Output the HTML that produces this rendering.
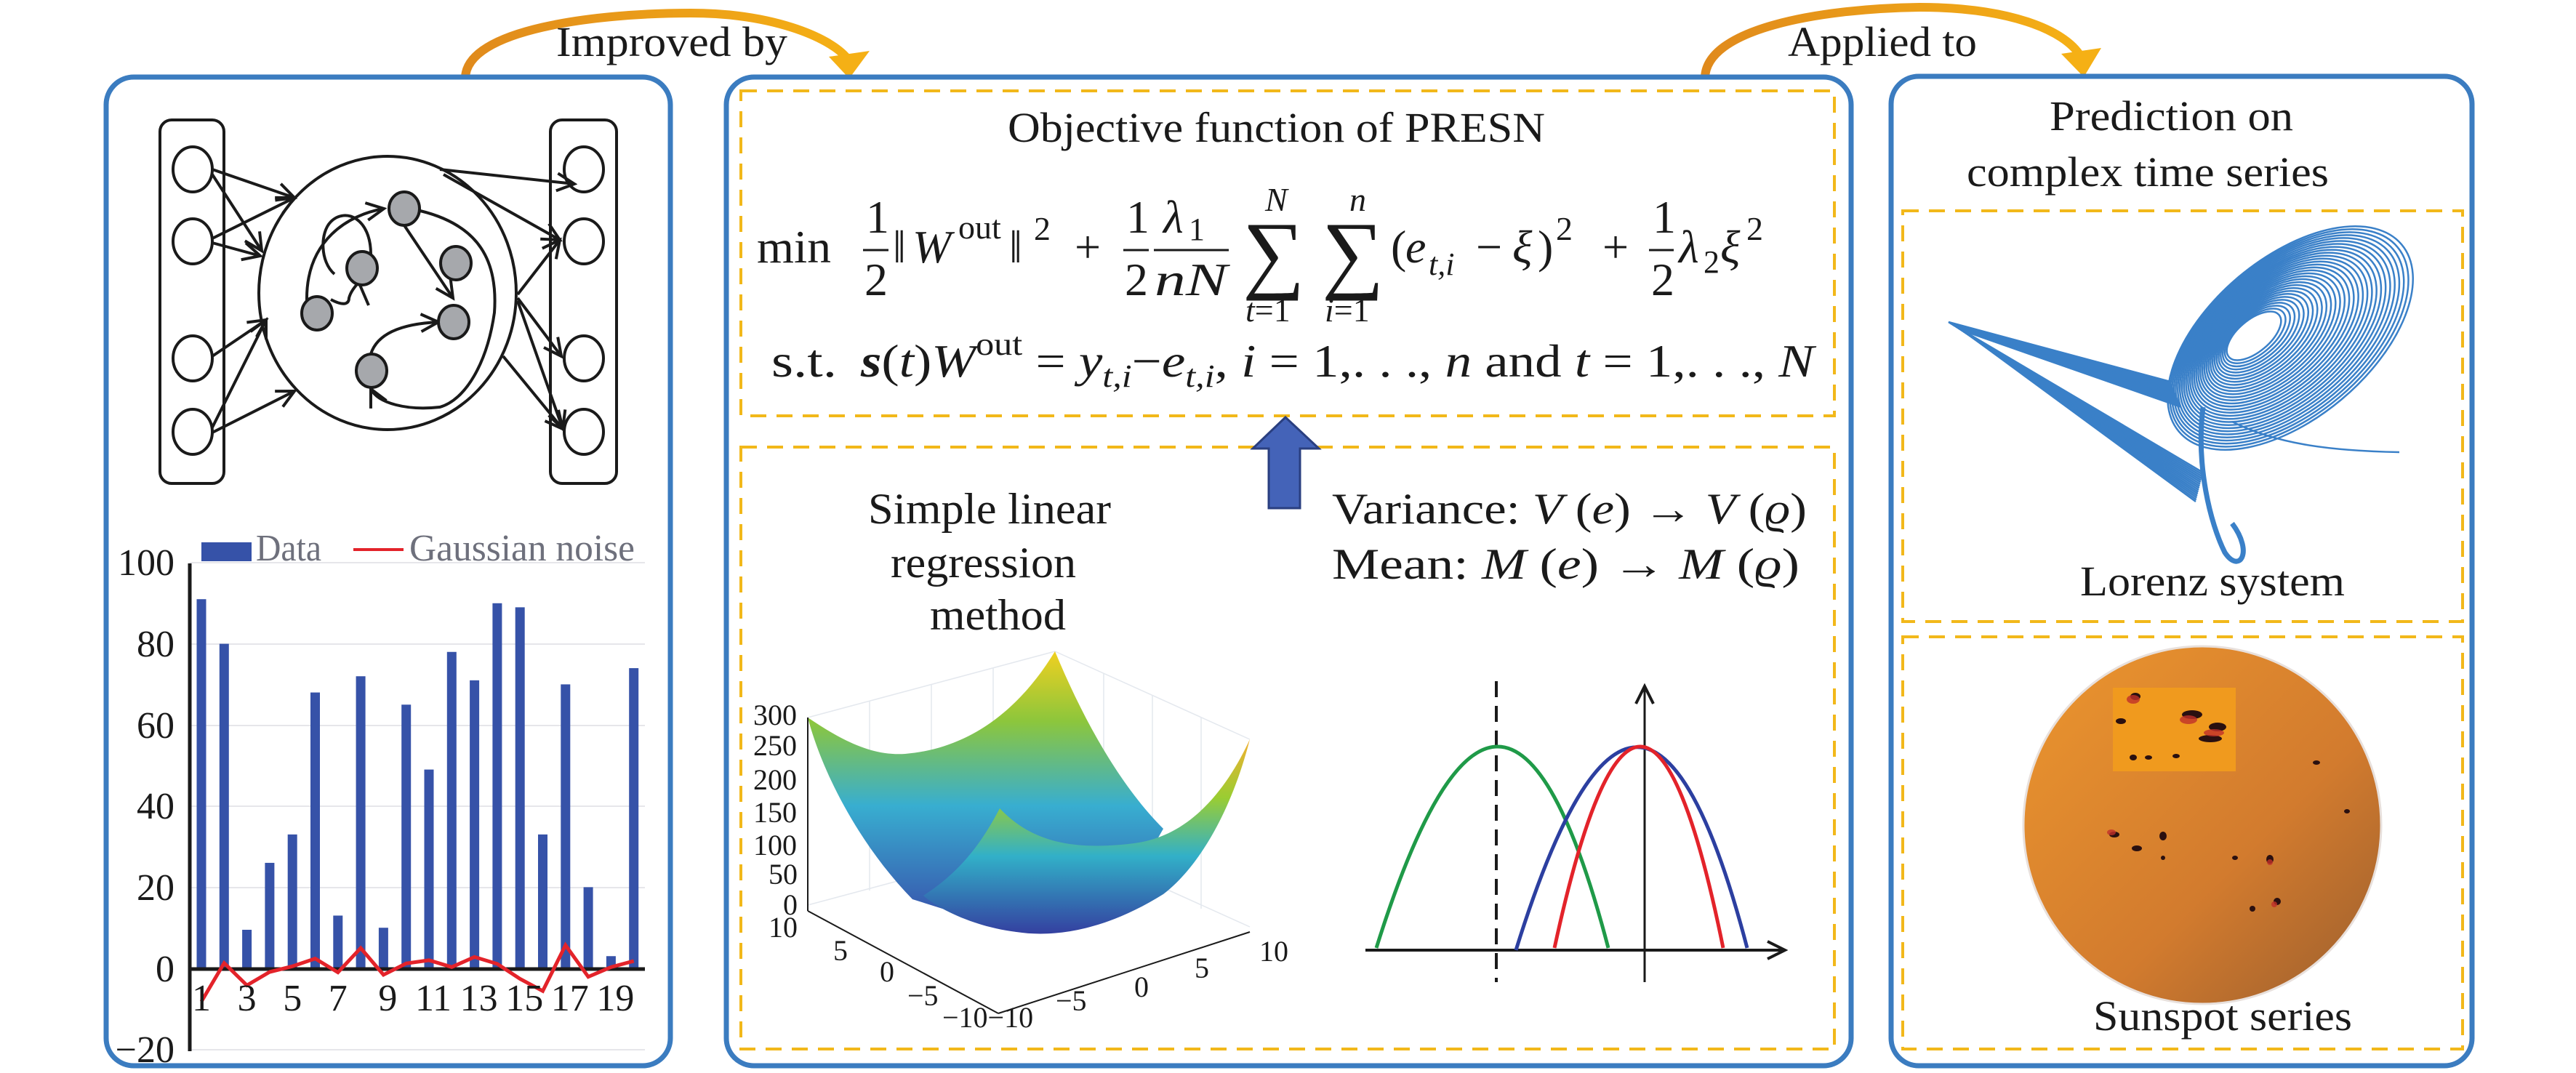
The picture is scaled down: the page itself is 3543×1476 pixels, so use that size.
<!DOCTYPE html>
<html><head><meta charset="utf-8"><style>
html,body{margin:0;padding:0;background:#fff;}
svg{display:block;}
svg text{font-family:"Liberation Serif","DejaVu Serif",serif;fill:#1a1a1a;}
.it{font-style:italic;}
</style></head><body>
<svg id="s" width="3543" height="1476" viewBox="0 0 3543 1476" xmlns="http://www.w3.org/2000/svg" font-family="Liberation Serif, DejaVu Serif, serif">
<defs>
<linearGradient id="arr" x1="0" y1="0" x2="1" y2="0"><stop offset="0" stop-color="#e08a1c"/><stop offset="1" stop-color="#f5b015"/></linearGradient>
<linearGradient id="sun" x1="0" y1="0" x2="1" y2="1"><stop offset="0" stop-color="#ec962e"/><stop offset="0.6" stop-color="#d27b2e"/><stop offset="1" stop-color="#9a5e2e"/></linearGradient>
<linearGradient id="surfB" x1="0" y1="0" x2="0" y2="1"><stop offset="0" stop-color="#f0d020"/><stop offset="0.25" stop-color="#8cc63c"/><stop offset="0.55" stop-color="#38aed0"/><stop offset="1" stop-color="#3848a8"/></linearGradient>
<linearGradient id="surfF" x1="0" y1="0" x2="0" y2="1"><stop offset="0" stop-color="#f2b030"/><stop offset="0.3" stop-color="#9acd32"/><stop offset="0.6" stop-color="#32b0c8"/><stop offset="1" stop-color="#3440a0"/></linearGradient>
<marker id="ah2" markerWidth="30" markerHeight="30" refX="26" refY="15" orient="auto" markerUnits="userSpaceOnUse"><path d="M2,3 L26,15 L2,27" fill="none" stroke="#1a1a1a" stroke-width="4"/></marker>
</defs>

<path d="M640,108 C640,40 820,18 950,18 C1060,18 1140,50 1165,80" fill="none" stroke="url(#arr)" stroke-width="12"/>
<polygon points="1140,78 1196,70 1168,108" fill="#f5b015"/>
<text x="765" y="77" font-size="58" textLength="318" lengthAdjust="spacingAndGlyphs">Improved by</text>
<path d="M2345,108 C2345,40 2500,12 2640,10 C2760,10 2840,40 2862,78" fill="none" stroke="url(#arr)" stroke-width="12"/>
<polygon points="2835,74 2890,66 2866,106" fill="#f5b015"/>
<text x="2459" y="77" font-size="58" textLength="260" lengthAdjust="spacingAndGlyphs">Applied to</text>

<rect x="146" y="106" width="776" height="1360" rx="38" fill="none" stroke="#3b7cc0" stroke-width="7"/>
<rect x="999" y="106" width="1547" height="1360" rx="38" fill="none" stroke="#3b7cc0" stroke-width="7"/>
<rect x="2601" y="105" width="799" height="1361" rx="38" fill="none" stroke="#3b7cc0" stroke-width="7"/>
<g fill="none" stroke="#f2b81a" stroke-width="4" stroke-dasharray="22,14">
<rect x="1019" y="125" width="1504" height="447"/>
<rect x="1019" y="615" width="1504" height="828"/>
<rect x="2617" y="290" width="770" height="565"/>
<rect x="2617" y="876" width="770" height="567"/>
</g>

<g fill="none" stroke="#1a1a1a" stroke-width="4">
<rect x="220" y="165" width="88" height="500" rx="16"/>
<rect x="757" y="165" width="91" height="500" rx="16"/>
<ellipse cx="265" cy="233" rx="27" ry="31"/><ellipse cx="265" cy="332" rx="27" ry="31"/>
<ellipse cx="265" cy="493" rx="27" ry="31"/><ellipse cx="265" cy="594" rx="27" ry="31"/>
<ellipse cx="803" cy="233" rx="27" ry="31"/><ellipse cx="803" cy="332" rx="27" ry="31"/>
<ellipse cx="803" cy="493" rx="27" ry="31"/><ellipse cx="803" cy="594" rx="27" ry="31"/>
<ellipse cx="533" cy="403" rx="177" ry="188"/>
<g marker-end="url(#ah2)">
<line x1="292" y1="233" x2="405" y2="272"/><line x1="292" y1="240" x2="360" y2="345"/>
<line x1="292" y1="328" x2="405" y2="272"/><line x1="292" y1="334" x2="358" y2="352"/>
<line x1="292" y1="490" x2="366" y2="440"/><line x1="292" y1="588" x2="366" y2="440"/>
<line x1="292" y1="595" x2="405" y2="538"/>
<line x1="605" y1="233" x2="790" y2="253"/><line x1="610" y1="240" x2="770" y2="330"/>
<line x1="712" y1="405" x2="770" y2="330"/><line x1="712" y1="410" x2="772" y2="490"/>
<line x1="712" y1="414" x2="774" y2="590"/><line x1="692" y1="490" x2="774" y2="590"/>
<line x1="556" y1="310" x2="623" y2="410"/>
<path d="M422,415 C420,330 480,295 528,287"/>
<path d="M578,290 C660,310 685,360 680,430 C670,500 640,550 605,560 C560,565 520,555 510,535"/>
<path d="M510,487 C520,455 560,445 603,443"/>
</g>
<path d="M460,377 C440,360 440,320 455,305 C475,285 510,300 510,350 C510,380 485,390 480,410 C480,420 470,420 455,412"/>
<line x1="495" y1="392" x2="507" y2="420"/>
</g>
<g fill="#a6a8ac" stroke="#1a1a1a" stroke-width="4">
<ellipse cx="556" cy="287" rx="21" ry="23"/><ellipse cx="498" cy="369" rx="21" ry="23"/>
<ellipse cx="436" cy="431" rx="21" ry="23"/><ellipse cx="627" cy="362" rx="21" ry="23"/>
<ellipse cx="624" cy="443" rx="21" ry="23"/><ellipse cx="511" cy="510" rx="21" ry="23"/>
</g>

<g stroke="#e6e6ea" stroke-width="2">
<line x1="261" y1="774" x2="887" y2="774"/><line x1="261" y1="886" x2="887" y2="886"/>
<line x1="261" y1="998" x2="887" y2="998"/><line x1="261" y1="1109" x2="887" y2="1109"/>
<line x1="261" y1="1221" x2="887" y2="1221"/><line x1="261" y1="1444" x2="887" y2="1444"/>
</g>
<g id="bars" fill="#3652a8"></g>
<line x1="261" y1="775" x2="261" y2="1446" stroke="#1a1a1a" stroke-width="5"/>
<line x1="259" y1="1333" x2="887" y2="1333" stroke="#1a1a1a" stroke-width="5"/>
<polyline id="noise" fill="none" stroke="#e3232a" stroke-width="5"/>
<g font-size="52" text-anchor="end">
<text x="240" y="791">100</text><text x="240" y="903">80</text><text x="240" y="1015">60</text>
<text x="240" y="1126">40</text><text x="240" y="1238">20</text><text x="240" y="1350">0</text><text x="240" y="1461">−20</text>
</g>
<g font-size="52" text-anchor="middle" id="xl"></g>
<rect x="277" y="746" width="69" height="26" fill="#3652a8"/>
<text x="352" y="771" font-size="52" style="fill:#6e707c" textLength="90" lengthAdjust="spacingAndGlyphs">Data</text>
<line x1="486" y1="756" x2="555" y2="756" stroke="#e3232a" stroke-width="4"/>
<text x="563" y="771" font-size="52" style="fill:#6e707c" textLength="310" lengthAdjust="spacingAndGlyphs">Gaussian noise</text>

<text x="1386" y="195" font-size="58" textLength="739" lengthAdjust="spacingAndGlyphs">Objective function of PRESN</text>
<g font-size="64">
<text x="1041" y="361" textLength="102" lengthAdjust="spacingAndGlyphs">min</text>
<text x="1191" y="320">1</text><line x1="1187" y1="344" x2="1222" y2="344" stroke="#1a1a1a" stroke-width="3"/><text x="1189" y="406">2</text>
<text x="1228" y="361">‖</text><text x="1255" y="361" class="it">W</text><text x="1318" y="328" font-size="46">out</text><text x="1388" y="361">‖</text><text x="1422" y="330" font-size="46">2</text>
<text x="1478" y="361">+</text>
<text x="1549" y="320">1</text><line x1="1545" y1="344" x2="1580" y2="344" stroke="#1a1a1a" stroke-width="3"/><text x="1547" y="406">2</text>
<text x="1600" y="320" class="it">λ</text><text x="1635" y="330" font-size="44">1</text>
<line x1="1587" y1="344" x2="1690" y2="344" stroke="#1a1a1a" stroke-width="3"/>
<text x="1588" y="406" class="it" textLength="100" lengthAdjust="spacingAndGlyphs">nN</text>
<text x="1709" y="388" font-size="120">∑</text><text x="1818" y="388" font-size="120">∑</text>
<text x="1740" y="290" font-size="46" class="it">N</text><text x="1856" y="290" font-size="46" class="it">n</text>
<text x="1713" y="442" font-size="46"><tspan class="it">t</tspan>=1</text><text x="1822" y="442" font-size="46"><tspan class="it">i</tspan>=1</text>
<text x="1913" y="361">(</text><text x="1933" y="361" class="it">e</text><text x="1965" y="378" font-size="44" class="it">t,i</text>
<text x="2030" y="361">−</text><text x="2080" y="361" class="it">ξ</text><text x="2115" y="361">)</text><text x="2140" y="330" font-size="46">2</text>
<text x="2204" y="361">+</text>
<text x="2273" y="320">1</text><line x1="2268" y1="344" x2="2302" y2="344" stroke="#1a1a1a" stroke-width="3"/><text x="2271" y="406">2</text>
<text x="2309" y="361" class="it">λ</text><text x="2343" y="375" font-size="44">2</text><text x="2366" y="361" class="it">ξ</text><text x="2402" y="330" font-size="46">2</text>
<text x="1061" y="518" textLength="90" lengthAdjust="spacingAndGlyphs">s.t.</text>
<text x="1184" y="518" textLength="1311" lengthAdjust="spacingAndGlyphs"><tspan font-weight="bold" class="it">s</tspan>(<tspan class="it">t</tspan>)<tspan class="it">W</tspan><tspan font-size="44" dy="-30">out</tspan><tspan dy="30"> =</tspan> <tspan class="it">y</tspan><tspan font-size="44" class="it" dy="14">t,i</tspan><tspan dy="-14">−</tspan><tspan class="it">e</tspan><tspan font-size="44" class="it" dy="14">t,i</tspan><tspan dy="-14">, </tspan><tspan class="it">i</tspan> = 1,. . ., <tspan class="it">n</tspan> and <tspan class="it">t</tspan> = 1,. . ., <tspan class="it">N</tspan></text>
</g>

<polygon points="1768,574 1814,617 1788,617 1788,699 1745,699 1745,617 1723,617" fill="#4463b8" stroke="#2a3f80" stroke-width="3"/>

<g font-size="60">
<text x="1194" y="720" textLength="334" lengthAdjust="spacingAndGlyphs">Simple linear</text>
<text x="1225" y="794" textLength="255" lengthAdjust="spacingAndGlyphs">regression</text>
<text x="1279" y="866" textLength="187" lengthAdjust="spacingAndGlyphs">method</text>
<text x="1832" y="720" textLength="653" lengthAdjust="spacingAndGlyphs">Variance: <tspan class="it">V</tspan> (<tspan class="it">e</tspan>) → <tspan class="it">V</tspan> (<tspan class="it">ϱ</tspan>)</text>
<text x="1832" y="796" textLength="643" lengthAdjust="spacingAndGlyphs">Mean:    <tspan class="it">M</tspan> (<tspan class="it">e</tspan>) → <tspan class="it">M</tspan> (<tspan class="it">ϱ</tspan>)</text>
</g>

<g stroke="#e4e8ee" stroke-width="1.5" fill="none">
<line x1="1111" y1="987" x2="1451" y2="896"/><line x1="1451" y1="896" x2="1719" y2="1017"/>
<line x1="1196" y1="965" x2="1196" y2="1225"/><line x1="1281" y1="942" x2="1281" y2="1200"/><line x1="1366" y1="919" x2="1366" y2="1180"/>
<line x1="1518" y1="926" x2="1518" y2="1190"/><line x1="1585" y1="956" x2="1585" y2="1220"/><line x1="1652" y1="987" x2="1652" y2="1250"/>
<line x1="1111" y1="1245" x2="1451" y2="1154"/><line x1="1451" y1="1154" x2="1719" y2="1275"/>
</g>
<path d="M1111,987 C1160,1020 1200,1040 1245,1037 C1330,1030 1400,980 1451,896 C1490,990 1540,1080 1600,1140 L1560,1210 L1398,1282 L1255,1237 C1180,1160 1130,1060 1111,987 Z" fill="url(#surfB)"/>
<path d="M1375,1112 C1420,1160 1480,1170 1560,1160 C1640,1150 1690,1080 1719,1017 C1690,1130 1640,1200 1600,1230 C1520,1280 1450,1290 1398,1282 C1340,1275 1290,1250 1270,1232 C1320,1200 1350,1160 1375,1112 Z" fill="url(#surfF)"/>
<g stroke="#1a1a1a" stroke-width="2" fill="none">
<line x1="1111" y1="987" x2="1111" y2="1253"/>
<line x1="1111" y1="1253" x2="1373" y2="1394"/><line x1="1373" y1="1394" x2="1719" y2="1282"/>
</g>
<g font-size="40">
<text x="1036" y="997">300</text><text x="1036" y="1039">250</text><text x="1036" y="1086">200</text>
<text x="1036" y="1131">150</text><text x="1036" y="1176">100</text><text x="1057" y="1216">50</text>
<text x="1077" y="1258">0</text><text x="1057" y="1289">10</text>
<text x="1146" y="1321">5</text><text x="1210" y="1350">0</text><text x="1248" y="1383">−5</text>
<text x="1296" y="1413">−10−10</text><text x="1452" y="1390">−5</text><text x="1560" y="1371">0</text>
<text x="1643" y="1345">5</text><text x="1732" y="1322">10</text>
</g>

<line x1="1878" y1="1307" x2="2455" y2="1307" stroke="#1a1a1a" stroke-width="4" marker-end="url(#ah2)"/>
<line x1="2262" y1="1351" x2="2262" y2="944" stroke="#1a1a1a" stroke-width="3" marker-end="url(#ah2)"/>
<line x1="2058" y1="937" x2="2058" y2="1351" stroke="#1a1a1a" stroke-width="4" stroke-dasharray="22,12"/>
<path d="M1893,1304 Q2067,750 2212,1304" fill="none" stroke="#1f9a48" stroke-width="5"/>
<path d="M2085,1307 Q2258,750 2403,1304" fill="none" stroke="#2c3fa0" stroke-width="5"/>
<path d="M2138,1304 Q2258,750 2370,1304" fill="none" stroke="#e3232a" stroke-width="5"/>

<text x="2819" y="179" font-size="58" textLength="335" lengthAdjust="spacingAndGlyphs">Prediction on</text>
<text x="2705" y="256" font-size="58" textLength="498" lengthAdjust="spacingAndGlyphs">complex time series</text>
<g id="lor" fill="none" stroke="#3a80c8" stroke-width="2.5"></g>
<text x="2861" y="819" font-size="58" textLength="364" lengthAdjust="spacingAndGlyphs">Lorenz system</text>
<ellipse cx="3029" cy="1135" rx="246" ry="246" fill="url(#sun)" stroke="#e8e0dc" stroke-width="3"/>
<rect x="2906" y="946" width="169" height="115" fill="#f09a1e"/>
<g fill="#2a1010">
<ellipse cx="2937" cy="958" rx="7" ry="5"/><ellipse cx="3015" cy="983" rx="14" ry="6"/><ellipse cx="3050" cy="1000" rx="12" ry="6"/>
<ellipse cx="2917" cy="992" rx="7" ry="4"/><ellipse cx="3040" cy="1016" rx="16" ry="5"/><ellipse cx="2934" cy="1042" rx="5" ry="4"/>
<ellipse cx="2955" cy="1042" rx="5" ry="3"/><ellipse cx="2993" cy="1040" rx="5" ry="3"/><ellipse cx="3186" cy="1049" rx="5" ry="3"/>
<ellipse cx="3228" cy="1116" rx="4" ry="3"/><ellipse cx="2908" cy="1148" rx="7" ry="4"/><ellipse cx="2939" cy="1167" rx="7" ry="4"/>
<ellipse cx="2975" cy="1150" rx="5" ry="6"/><ellipse cx="3074" cy="1180" rx="4" ry="3"/><ellipse cx="3122" cy="1182" rx="5" ry="6"/>
<ellipse cx="3098" cy="1250" rx="4" ry="4"/><ellipse cx="3132" cy="1240" rx="5" ry="5"/><ellipse cx="2975" cy="1180" rx="3" ry="3"/>
</g>
<g fill="#c0302a" opacity="0.8">
<ellipse cx="2934" cy="962" rx="9" ry="6"/><ellipse cx="3010" cy="990" rx="12" ry="6"/><ellipse cx="3045" cy="1008" rx="14" ry="5"/>
<ellipse cx="2904" cy="1145" rx="6" ry="4"/><ellipse cx="3122" cy="1186" rx="4" ry="4"/><ellipse cx="3128" cy="1244" rx="4" ry="4"/>
</g>
<text x="2879" y="1417" font-size="58" textLength="356" lengthAdjust="spacingAndGlyphs">Sunspot series</text>
</svg>
<script>
var NS="http://www.w3.org/2000/svg";
function el(p,t,a){var e=document.createElementNS(NS,t);for(var k in a)e.setAttribute(k,a[k]);p.appendChild(e);return e;}
var vals=[91,80,9.5,26,33,68,13,72,10,65,49,78,71,90,89,33,70,20,3,74];
var nz=[-8.2,1.3,-4.2,-0.9,0.5,2.4,-1,5,-1.6,1.2,2,0.3,2.8,1.1,-2.6,-5.6,5.7,-2.1,0.3,1.8];
var bars=document.getElementById('bars'),xl=document.getElementById('xl'),pts=[];
for(var i=0;i<20;i++){var cx=277+i*31.3;var h=vals[i]*5.58;
el(bars,'rect',{x:cx-6.5,y:1332-h,width:13,height:h});
pts.push(cx+','+(1332-nz[i]*5.58));
if(i%2==0){var t=el(xl,'text',{x:cx+(i>=8?6:0),y:1390});t.textContent=String(i+1);}}
document.getElementById('noise').setAttribute('points',pts.join(' '));
var L=document.getElementById('lor');
for(var k=0;k<30;k++){var f=k/29;var cx=3100+f*50,cy=462+f*3;
el(L,'ellipse',{cx:cx,cy:cy,rx:45+f*155,ry:22+f*88,transform:'rotate(-40 '+cx+' '+cy+')'});}
for(var k=0;k<16;k++){var f=k/15;
el(L,'path',{d:'M'+(2985+f*15)+','+(525+f*35)+' L'+(2680+f*20)+','+(443+f*12)+' L'+(3030-f*10)+','+(650+f*40)});}
el(L,'path',{d:'M3030,560 C3020,640 3040,720 3060,760 C3080,790 3100,760 3070,720',"stroke-width":7});
el(L,'path',{d:'M3070,580 C3130,610 3200,620 3300,622'});
</script>
</body></html>
